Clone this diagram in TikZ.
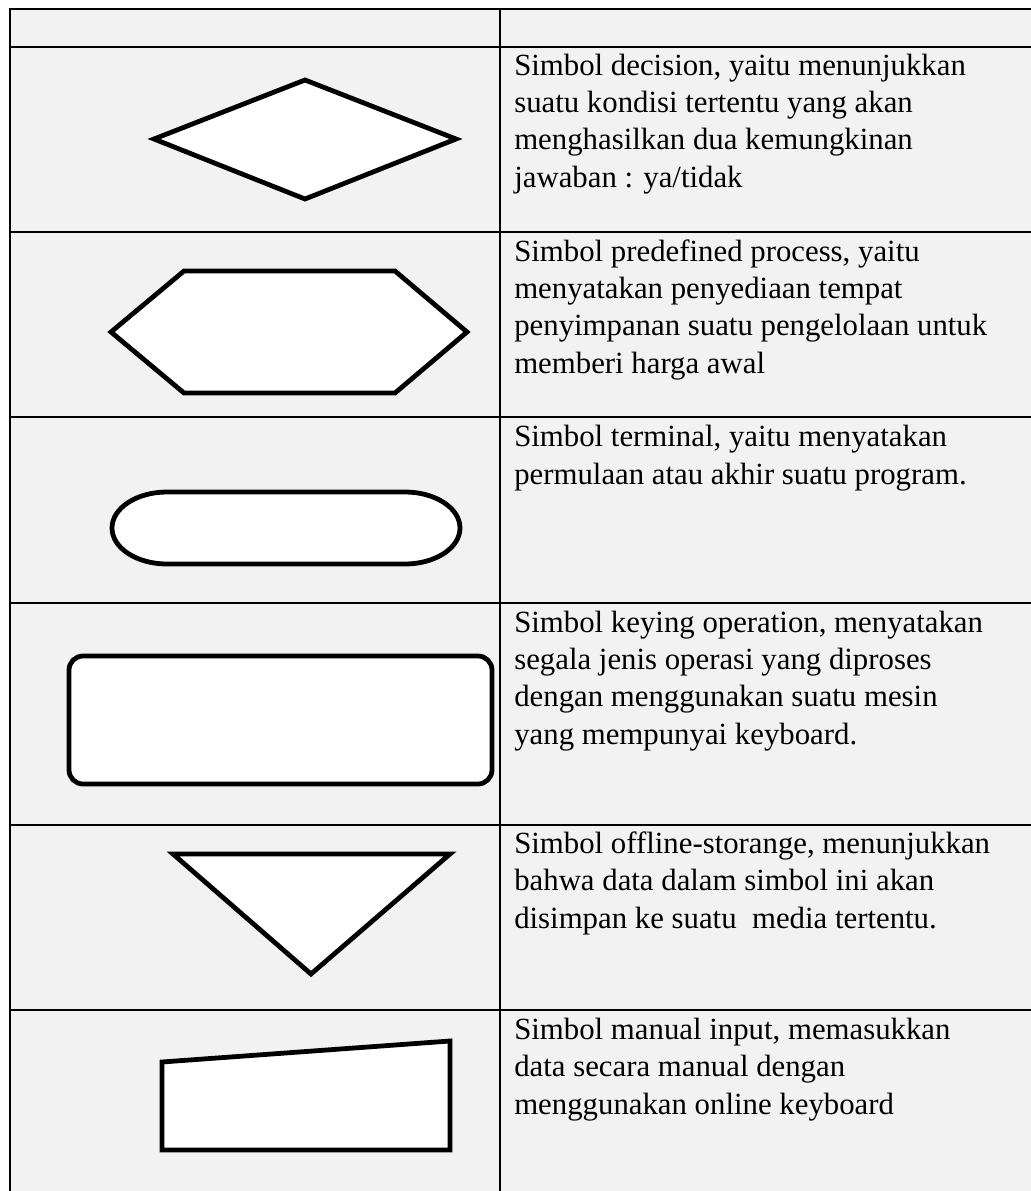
\documentclass[tikz,border=0pt]{standalone}
\usepackage{fontspec}
\setmainfont{Liberation Serif}
\usepackage{tikz}
\definecolor{cellgray}{RGB}{242,242,242}

\begin{document}
\begin{tikzpicture}[x=0.025cm,y=-0.025cm,
	rule/.style={line width=1.8pt, black},
	sym/.style={line width=3.4pt, black, fill=white, line join=miter},
	desc/.style={anchor=base west, inner sep=0pt, align=left, font=\fontsize{21.9}{26.5}\selectfont}]
	\useasboundingbox [fill=white] (0,0) rectangle (1031,1191);
	\fill [cellgray] (10,9) rectangle (1031,1191);

	\draw [rule] (1031,9) -- (10,9) -- (10,1191);
	\draw [rule] (500,9) -- (500,1191);
	\draw [rule] (10,47) -- (1031,47);
	\draw [rule] (10,232) -- (1031,232);
	\draw [rule] (10,417) -- (1031,417);
	\draw [rule] (10,603) -- (1031,603);
	\draw [rule] (10,825) -- (1031,825);
	\draw [rule] (10,1010) -- (1031,1010);

	\draw [sym] (154,139) -- (305,80) -- (456,139) -- (305,199) -- cycle;
	\draw [sym] (111,332) -- (184,271) -- (395,271) -- (467,332) -- (395,393) -- (184,393) -- cycle;
	\draw [sym] (167,492) -- (405,492) arc [start angle=-90, end angle=90, x radius=55, y radius=36]
		-- (167,564) arc [start angle=90, end angle=270, x radius=55, y radius=36] -- cycle;
	\draw [sym, rounded corners=10pt] (69,656) rectangle (492,784);
	\draw [sym] (173,854) -- (450,854) -- (311,974) -- cycle;
	\draw [sym] (162,1062) -- (450,1041) -- (450,1150) -- (162,1150) -- cycle;

	% base anchor sits on the last line
	\node (t1) [desc] at (514,187) {Simbol decision, yaitu menunjukkan\\suatu kondisi tertentu yang akan\\menghasilkan dua kemungkinan\\jawaban : ya/tidak};
	\node (t2) [desc] at (514,373) {Simbol predefined process, yaitu\\menyatakan penyediaan tempat\\penyimpanan suatu pengelolaan untuk\\memberi harga awal};
	\node (t3) [desc] at (514,484) {Simbol terminal, yaitu menyatakan\\permulaan atau akhir suatu program.};
	\node (t4) [desc] at (514,744) {Simbol keying operation, menyatakan\\segala jenis operasi yang diproses\\dengan menggunakan suatu mesin\\yang mempunyai keyboard.};
	\node (t5) [desc] at (514,928) {Simbol offline-storange, menunjukkan\\bahwa data dalam simbol ini akan\\disimpan ke suatu \ media tertentu.};
	\node (t6) [desc] at (514,1114) {Simbol manual input, memasukkan\\data secara manual dengan\\menggunakan online keyboard};

\end{tikzpicture}
\end{document}
